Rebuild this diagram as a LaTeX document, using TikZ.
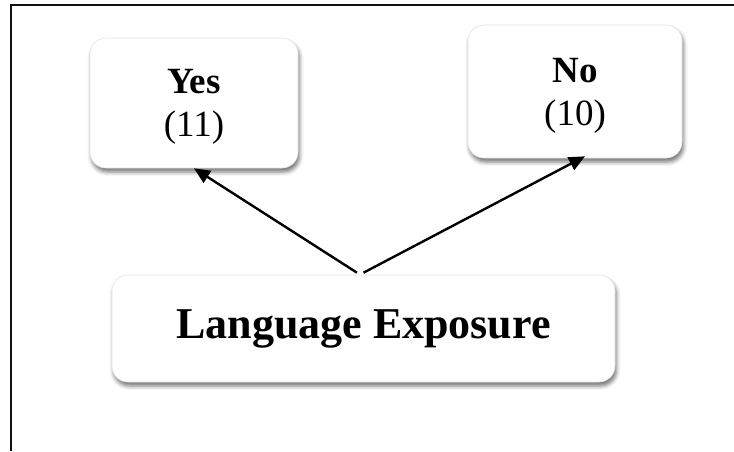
\documentclass[tikz,border=0pt]{standalone}
\usepackage{fontspec}
\setmainfont{Liberation Serif}
\usetikzlibrary{arrows.meta,calc,shadows.blur}
\definecolor{framegray}{RGB}{15,15,15}
\definecolor{edgegray}{RGB}{228,228,228}

\tikzset{
  catbox/.style={draw=edgegray, line width=0.6pt, fill=white, rounded corners=16pt, inner sep=0pt,
    blur shadow={shadow xshift=1.5pt, shadow yshift=-4pt, shadow blur radius=4pt, shadow opacity=55}},
  smallfont/.style={font=\fontsize{37}{43}\selectfont, text depth=0pt},
  link/.style={line width=2.4pt, draw=black, -{Triangle[length=16pt,width=14pt]}}
}

\begin{document}
\begin{tikzpicture}[x=1pt,y=-1pt]
  \useasboundingbox (0,0) rectangle (734,451);
  % frame
  \draw[framegray, line width=2.2pt] (11,451) -- (11,5) -- (734,5);
  % boxes
  \node[catbox, smallfont, align=center, minimum width=208pt, minimum height=130pt] (yes) at (194,103) {\textbf{Yes}\\(11)};
  \node[catbox, smallfont, align=center, minimum width=214pt, minimum height=133pt] (no)  at (575,91.5) {\textbf{No}\\(10)};
  \node[catbox, font=\fontsize{44}{50}\selectfont\bfseries, minimum width=503pt, minimum height=107pt] (lang) at (363.5,328.5) {Language Exposure};
  % arrows
  \draw[link] ($(lang.north)+(-6.5,-2)$) -- (yes.south);
  \draw[link] ($(lang.north)+(0,-2)$) -- ($(no.south)+(10,-2)$);
\end{tikzpicture}
\end{document}
